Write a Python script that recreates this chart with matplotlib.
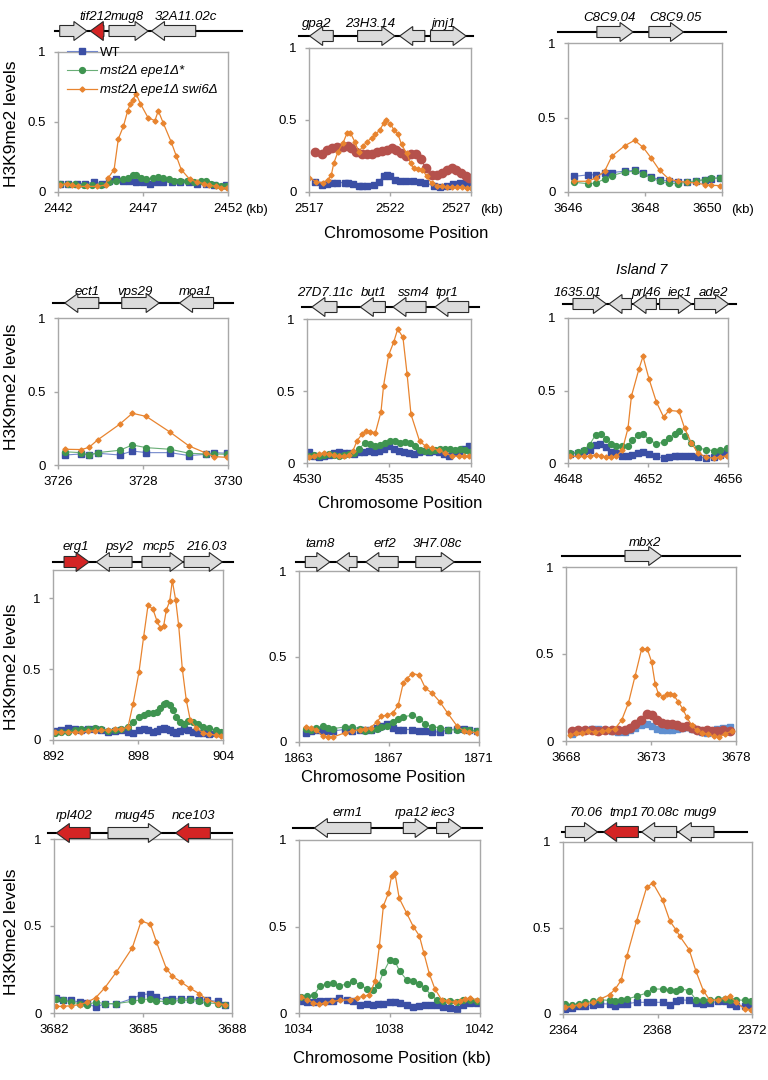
import numpy as np
import matplotlib.pyplot as plt
from matplotlib.patches import Polygon
from matplotlib.transforms import blended_transform_factory

plt.rcParams['font.family'] = ['Liberation Sans', 'DejaVu Sans']

W, H = 768, 1080

# ---------------- data (kb, H3K9me2 level) ----------------
# panel 1
p1_wt_x = [2442.1, 2442.6, 2443.1, 2443.6, 2444.1, 2444.6, 2445.0, 2445.4, 2445.8, 2446.2, 2446.6,
           2447.0, 2447.4, 2447.8, 2448.2, 2448.7, 2449.2, 2449.7, 2450.2, 2450.7, 2451.2, 2451.9]
p1_wt = [0.06, 0.06, 0.06, 0.06, 0.07, 0.06, 0.08, 0.09, 0.08, 0.08, 0.07,
         0.07, 0.06, 0.07, 0.07, 0.07, 0.07, 0.07, 0.06, 0.06, 0.05, 0.05]
p1_mut_x = [2442.1, 2442.6, 2443.0, 2443.5, 2444.0, 2444.5, 2445.0, 2445.4, 2445.8, 2446.1, 2446.4,
            2446.6, 2446.9, 2447.2, 2447.6, 2447.9, 2448.2, 2448.5, 2448.8, 2449.2, 2449.6, 2450.0,
            2450.4, 2450.7, 2451.0, 2451.3, 2451.6, 2451.9]
p1_mut = [0.06, 0.06, 0.06, 0.05, 0.05, 0.05, 0.07, 0.08, 0.09, 0.10, 0.12,
          0.12, 0.10, 0.09, 0.10, 0.11, 0.10, 0.09, 0.08, 0.08, 0.08, 0.07,
          0.08, 0.08, 0.06, 0.05, 0.04, 0.04]
p1_sw_x = [2442.1, 2442.5, 2442.8, 2443.2, 2443.7, 2444.3, 2444.8, 2444.95, 2445.3, 2445.55, 2445.85,
           2446.1, 2446.25, 2446.4, 2446.6, 2446.85, 2447.3, 2447.7, 2447.9, 2448.2, 2448.65, 2448.95,
           2449.25, 2449.75, 2450.2, 2450.6, 2450.9, 2451.3, 2451.6, 2451.95]
p1_sw = [0.05, 0.06, 0.05, 0.04, 0.04, 0.04, 0.05, 0.10, 0.16, 0.38, 0.47,
         0.58, 0.63, 0.66, 0.70, 0.63, 0.53, 0.51, 0.58, 0.49, 0.36, 0.26,
         0.16, 0.09, 0.07, 0.06, 0.05, 0.04, 0.03, 0.03]

# panel 2
p2_wt_x = [2517.35, 2517.8, 2518.1, 2518.4, 2518.7, 2519.2, 2519.4, 2519.7, 2520.1, 2520.3, 2520.6,
           2521.0, 2521.3, 2521.6, 2521.8, 2522.0, 2522.3, 2522.6, 2523.0, 2523.4, 2523.85, 2524.15,
           2524.7, 2525.1, 2525.5, 2525.9, 2526.3, 2526.7, 2526.9]
p2_wt = [0.07, 0.05, 0.055, 0.06, 0.065, 0.065, 0.065, 0.055, 0.04, 0.04, 0.04,
         0.05, 0.07, 0.11, 0.12, 0.11, 0.085, 0.075, 0.075, 0.075, 0.07, 0.065,
         0.04, 0.035, 0.045, 0.055, 0.06, 0.065, 0.07]
p2_alt_x = [2517.4, 2517.8, 2518.1, 2518.4, 2518.7, 2519.1, 2519.4, 2519.6, 2519.9, 2520.3, 2520.6,
            2520.9, 2521.2, 2521.5, 2521.8, 2522.1, 2522.4, 2522.7, 2523.0, 2523.3, 2523.6, 2523.9,
            2524.2, 2524.6, 2524.9, 2525.2, 2525.5, 2525.8, 2526.1, 2526.4, 2526.7, 2526.9]
p2_alt = [0.275, 0.265, 0.29, 0.305, 0.31, 0.315, 0.32, 0.305, 0.28, 0.265, 0.265,
          0.265, 0.275, 0.285, 0.295, 0.305, 0.295, 0.27, 0.25, 0.265, 0.265, 0.23,
          0.165, 0.115, 0.115, 0.13, 0.15, 0.165, 0.15, 0.13, 0.11, 0.095]
p2_sw_x = [2517.0, 2517.45, 2517.87, 2518.18, 2518.38, 2518.53, 2518.79, 2519.1, 2519.35, 2519.56,
           2519.82, 2520.07, 2520.34, 2520.59, 2520.86, 2521.1, 2521.37, 2521.62, 2521.78, 2522.03,
           2522.24, 2522.5, 2522.71, 2523.02, 2523.27, 2523.47, 2523.74, 2524.0, 2524.26, 2524.57,
           2524.88, 2525.19, 2525.49, 2525.8, 2526.11, 2526.42, 2526.73, 2526.98]
p2_sw = [0.10, 0.07, 0.065, 0.085, 0.12, 0.20, 0.28, 0.34, 0.41, 0.41,
         0.35, 0.28, 0.32, 0.35, 0.375, 0.40, 0.43, 0.48, 0.50, 0.475,
         0.43, 0.40, 0.33, 0.27, 0.20, 0.165, 0.16, 0.155, 0.11, 0.06,
         0.045, 0.04, 0.035, 0.035, 0.033, 0.033, 0.03, 0.03]

# panel 3
p3_x = [3646.16, 3646.52, 3646.72, 3646.95, 3647.14, 3647.47, 3647.73, 3647.95, 3648.16,
        3648.38, 3648.62, 3648.86, 3649.09, 3649.33, 3649.55, 3649.72, 3649.94]
p3_wt = [0.105, 0.115, 0.115, 0.125, 0.13, 0.14, 0.145, 0.128, 0.10,
         0.083, 0.072, 0.067, 0.067, 0.072, 0.083, 0.09, 0.094]
p3_mut = [0.065, 0.056, 0.06, 0.087, 0.11, 0.134, 0.139, 0.123, 0.094,
          0.072, 0.06, 0.056, 0.065, 0.076, 0.083, 0.094, 0.094]
p3_sw = [0.072, 0.072, 0.094, 0.139, 0.24, 0.31, 0.347, 0.30, 0.228,
         0.145, 0.087, 0.072, 0.065, 0.06, 0.05, 0.045, 0.043]

# panel 4
p4_x = [3726.16, 3726.55, 3726.73, 3726.93, 3727.45, 3727.75, 3728.08, 3728.64, 3729.08,
        3729.49, 3729.67, 3729.98]
p4_wt = [0.068, 0.075, 0.068, 0.08, 0.068, 0.095, 0.084, 0.084, 0.064, 0.073, 0.084, 0.08]
p4_mut = [0.09, 0.084, 0.068, 0.084, 0.10, 0.136, 0.118, 0.107, 0.08, 0.075, 0.075, 0.073]
p4_sw = [0.107, 0.105, 0.12, 0.17, 0.277, 0.352, 0.33, 0.223, 0.13, 0.08, 0.057, 0.052]

# panel 5
p5_wt_x = [4530.1, 4530.41, 4530.71, 4531.02, 4531.32, 4531.63, 4531.93, 4532.24, 4532.54, 4532.85,
           4533.15, 4533.46, 4533.76, 4534.07, 4534.37, 4534.67, 4534.98, 4535.28, 4535.59, 4535.89,
           4536.2, 4536.5, 4536.81, 4537.11, 4537.42, 4537.72, 4538.03, 4538.33, 4538.64, 4538.94,
           4539.25, 4539.55, 4539.86]
p5_wt = [0.074, 0.05, 0.044, 0.046, 0.055, 0.067, 0.074, 0.069, 0.069, 0.062,
         0.074, 0.078, 0.08, 0.074, 0.085, 0.097, 0.115, 0.10, 0.085, 0.074,
         0.067, 0.062, 0.074, 0.085, 0.078, 0.08, 0.078, 0.062, 0.05, 0.074,
         0.085, 0.10, 0.115]
p5_mut_x = [4530.1, 4530.41, 4530.71, 4531.02, 4531.32, 4531.63, 4531.93, 4532.24, 4532.54, 4532.85,
            4533.15, 4533.56, 4533.86, 4534.17, 4534.47, 4534.78, 4535.08, 4535.39, 4535.69, 4536.0,
            4536.3, 4536.61, 4536.91, 4537.22, 4537.52, 4537.83, 4538.13, 4538.43, 4538.74, 4539.04,
            4539.35, 4539.65, 4539.92]
p5_mut = [0.05, 0.055, 0.05, 0.055, 0.06, 0.055, 0.05, 0.055, 0.06, 0.07,
          0.10, 0.138, 0.13, 0.12, 0.126, 0.14, 0.154, 0.15, 0.142, 0.147,
          0.136, 0.115, 0.092, 0.085, 0.085, 0.092, 0.10, 0.10, 0.097, 0.092,
          0.10, 0.092, 0.078]
p5_sw_x = [4530.1, 4530.41, 4530.71, 4531.02, 4531.32, 4531.63, 4531.93, 4532.24, 4532.54, 4532.8,
           4533.05, 4533.35, 4533.62, 4533.86, 4534.17, 4534.51, 4534.67, 4534.98, 4535.28, 4535.53,
           4535.85, 4536.1, 4536.34, 4536.87, 4537.26, 4537.62, 4538.03, 4538.43, 4538.84, 4539.25,
           4539.55, 4539.86]
p5_sw = [0.044, 0.05, 0.062, 0.069, 0.062, 0.055, 0.05, 0.046, 0.057, 0.085,
         0.154, 0.20, 0.225, 0.218, 0.21, 0.354, 0.538, 0.75, 0.837, 0.93,
         0.873, 0.62, 0.338, 0.15, 0.115, 0.103, 0.09, 0.067, 0.05, 0.046,
         0.046, 0.046]

# panel 6
p6_wt_x = [4648.12, 4648.5, 4648.78, 4649.08, 4649.38, 4649.58, 4649.92, 4650.17, 4650.42, 4650.72,
           4651.0, 4651.22, 4651.5, 4651.75, 4652.05, 4652.42, 4652.78, 4653.05, 4653.33, 4653.55,
           4653.83, 4654.17, 4654.5, 4654.92, 4655.28, 4655.58, 4655.95]
p6_wt = [0.064, 0.069, 0.08, 0.092, 0.126, 0.13, 0.108, 0.076, 0.069, 0.046,
         0.046, 0.057, 0.069, 0.074, 0.064, 0.046, 0.034, 0.041, 0.046, 0.05,
         0.05, 0.046, 0.039, 0.034, 0.041, 0.057, 0.069]
p6_mut_x = [4648.12, 4648.5, 4648.78, 4649.08, 4649.38, 4649.67, 4649.92, 4650.17, 4650.42, 4650.72,
            4651.0, 4651.22, 4651.5, 4651.75, 4652.05, 4652.42, 4652.78, 4653.05, 4653.33, 4653.55,
            4653.83, 4654.17, 4654.5, 4654.92, 4655.28, 4655.58, 4655.95]
p6_mut = [0.069, 0.074, 0.092, 0.126, 0.195, 0.20, 0.165, 0.13, 0.12, 0.115,
          0.12, 0.16, 0.19, 0.20, 0.16, 0.133, 0.143, 0.172, 0.20, 0.218,
          0.184, 0.138, 0.103, 0.092, 0.085, 0.092, 0.103]
p6_sw_x = [4648.12, 4648.5, 4648.78, 4649.08, 4649.38, 4649.67, 4649.92, 4650.17, 4650.42, 4650.72,
           4651.0, 4651.17, 4651.55, 4651.75, 4652.05, 4652.42, 4652.78, 4653.05, 4653.55, 4653.83,
           4654.17, 4654.5, 4654.92, 4655.28, 4655.58, 4655.95]
p6_sw = [0.046, 0.046, 0.046, 0.046, 0.057, 0.05, 0.041, 0.041, 0.046, 0.092,
         0.24, 0.46, 0.65, 0.735, 0.58, 0.42, 0.317, 0.363, 0.356, 0.24,
         0.138, 0.069, 0.039, 0.034, 0.041, 0.05]

# panel 7
p7_x = [892.12, 892.59, 893.06, 893.53, 894.0, 894.47, 894.94, 895.41, 895.88, 896.35, 896.82,
        897.29, 897.65, 898.07, 898.4, 898.71, 899.06, 899.34, 899.58, 899.81, 900.0, 900.24,
        900.47, 900.71, 900.94, 901.22, 901.53, 901.88, 902.24, 902.59, 903.01, 903.48, 903.88]
p7_wt = [0.066, 0.07, 0.082, 0.075, 0.07, 0.075, 0.075, 0.07, 0.059, 0.066, 0.07,
         0.054, 0.052, 0.07, 0.078, 0.07, 0.054, 0.066, 0.075, 0.082, 0.078, 0.07,
         0.059, 0.052, 0.066, 0.075, 0.07, 0.059, 0.047, 0.047, 0.042, 0.047, 0.047]
p7_mut = [0.047, 0.054, 0.059, 0.07, 0.075, 0.078, 0.082, 0.078, 0.064, 0.07, 0.078,
          0.094, 0.13, 0.165, 0.176, 0.188, 0.193, 0.20, 0.224, 0.254, 0.26, 0.245,
          0.212, 0.165, 0.13, 0.113, 0.136, 0.13, 0.113, 0.094, 0.082, 0.07, 0.059]
p7_sw_x = [892.12, 892.59, 893.06, 893.53, 894.0, 894.47, 894.94, 895.41, 895.88, 896.35, 896.82,
           897.29, 897.65, 898.07, 898.4, 898.71, 899.06, 899.34, 899.58, 899.81, 900.0, 900.24,
           900.42, 900.66, 900.87, 901.13, 901.41, 901.69, 902.12, 902.59, 903.01, 903.48, 903.88]
p7_sw = [0.054, 0.06, 0.054, 0.054, 0.054, 0.064, 0.064, 0.07, 0.07, 0.075, 0.078,
         0.09, 0.254, 0.48, 0.73, 0.953, 0.922, 0.84, 0.79, 0.805, 0.918, 0.98,
         1.125, 0.988, 0.81, 0.5, 0.28, 0.14, 0.082, 0.052, 0.042, 0.035, 0.03]

# panel 8
p8_x = [1863.33, 1863.55, 1863.77, 1864.07, 1864.29, 1864.51, 1865.03, 1865.37, 1865.7, 1865.92,
        1866.18, 1866.47, 1866.66, 1866.89, 1867.18, 1867.41, 1867.63, 1868.04, 1868.34, 1868.62,
        1868.93, 1869.26, 1869.6, 1870.03, 1870.33, 1870.57, 1870.89]
p8_wt = [0.055, 0.063, 0.069, 0.063, 0.065, 0.065, 0.073, 0.065, 0.073, 0.069,
         0.069, 0.084, 0.092, 0.104, 0.084, 0.069, 0.073, 0.073, 0.065, 0.065,
         0.059, 0.059, 0.069, 0.078, 0.078, 0.069, 0.065]
p8_mut = [0.078, 0.073, 0.084, 0.092, 0.084, 0.078, 0.088, 0.088, 0.078, 0.065,
          0.069, 0.078, 0.088, 0.092, 0.118, 0.133, 0.147, 0.157, 0.137, 0.104,
          0.088, 0.084, 0.073, 0.069, 0.069, 0.069, 0.065]
p8_sw_x = [1863.33, 1863.55, 1863.77, 1864.07, 1864.29, 1864.51, 1865.03, 1865.37, 1865.7, 1865.92,
           1866.18, 1866.47, 1866.66, 1866.89, 1867.18, 1867.41, 1867.63, 1867.78, 1868.04, 1868.34,
           1868.62, 1868.93, 1869.26, 1869.6, 1870.03, 1870.33, 1870.57, 1870.89]
p8_sw = [0.088, 0.084, 0.069, 0.033, 0.029, 0.029, 0.053, 0.065, 0.073, 0.078,
         0.084, 0.118, 0.15, 0.157, 0.17, 0.216, 0.343, 0.37, 0.40, 0.392,
         0.314, 0.284, 0.235, 0.17, 0.092, 0.065, 0.059, 0.055]

# panel 9
p9_x = [3668.33, 3668.73, 3669.12, 3669.51, 3669.9, 3670.29, 3670.69, 3671.08, 3671.47, 3671.76,
        3672.06, 3672.39, 3672.75, 3673.04, 3673.33, 3673.63, 3673.92, 3674.22, 3674.51, 3674.8,
        3675.1, 3675.39, 3675.69, 3675.98, 3676.27, 3676.57, 3676.86, 3677.25, 3677.65]
p9_wt = [0.042, 0.057, 0.065, 0.071, 0.067, 0.061, 0.057, 0.052, 0.052, 0.065,
         0.077, 0.09, 0.096, 0.084, 0.071, 0.065, 0.061, 0.065, 0.071, 0.077,
         0.08, 0.071, 0.065, 0.052, 0.048, 0.052, 0.071, 0.077, 0.08]
p9_alt = [0.057, 0.065, 0.065, 0.061, 0.057, 0.061, 0.065, 0.061, 0.065, 0.077,
          0.10, 0.119, 0.157, 0.151, 0.123, 0.103, 0.10, 0.10, 0.09, 0.08,
          0.084, 0.077, 0.061, 0.057, 0.061, 0.057, 0.057, 0.061, 0.057]
p9_sw_x = [3668.24, 3668.59, 3668.92, 3669.31, 3669.71, 3670.1, 3670.49, 3670.88, 3671.27, 3671.67,
           3672.06, 3672.45, 3672.78, 3673.04, 3673.24, 3673.43, 3673.69, 3673.92, 3674.12, 3674.35,
           3674.61, 3674.86, 3675.1, 3675.39, 3675.69, 3675.98, 3676.37, 3676.71, 3677.02, 3677.35,
           3677.75]
p9_sw = [0.033, 0.048, 0.046, 0.056, 0.052, 0.058, 0.061, 0.071, 0.119, 0.218,
         0.372, 0.529, 0.529, 0.454, 0.33, 0.272, 0.253, 0.272, 0.272, 0.262,
         0.224, 0.186, 0.138, 0.09, 0.061, 0.048, 0.038, 0.027, 0.023, 0.042,
         0.056]

# panel 10
p10_x = [3682.08, 3682.3, 3682.58, 3682.87, 3683.11, 3683.4, 3683.71, 3684.1, 3684.64, 3684.94,
         3685.25, 3685.45, 3685.79, 3685.99, 3686.29, 3686.57, 3686.89, 3687.16, 3687.53, 3687.75]
p10_wt = [0.087, 0.073, 0.073, 0.062, 0.058, 0.033, 0.054, 0.052, 0.083, 0.106,
          0.11, 0.09, 0.073, 0.081, 0.081, 0.081, 0.077, 0.073, 0.067, 0.048]
p10_mut = [0.081, 0.073, 0.062, 0.054, 0.048, 0.062, 0.054, 0.054, 0.067, 0.077,
           0.081, 0.067, 0.067, 0.067, 0.073, 0.073, 0.067, 0.058, 0.054, 0.048]
p10_sw = [0.038, 0.038, 0.042, 0.048, 0.062, 0.087, 0.144, 0.235, 0.375, 0.529,
          0.51, 0.41, 0.254, 0.212, 0.177, 0.144, 0.112, 0.077, 0.054, 0.048]

# panel 11
p11_x = [1034.07, 1034.34, 1034.66, 1034.93, 1035.22, 1035.49, 1035.77, 1036.14, 1036.4, 1036.7,
         1037.02, 1037.28, 1037.51, 1037.73, 1038.02, 1038.24, 1038.46, 1038.76, 1039.05, 1039.32,
         1039.57, 1039.82, 1040.08, 1040.38, 1040.67, 1040.97, 1041.26, 1041.56, 1041.85]
p11_wt = [0.071, 0.063, 0.062, 0.067, 0.071, 0.067, 0.087, 0.077, 0.071, 0.048,
          0.052, 0.048, 0.052, 0.054, 0.062, 0.062, 0.058, 0.044, 0.035, 0.042,
          0.044, 0.048, 0.044, 0.035, 0.029, 0.025, 0.044, 0.058, 0.058]
p11_mut = [0.092, 0.096, 0.106, 0.154, 0.169, 0.173, 0.158, 0.167, 0.183, 0.163,
           0.138, 0.135, 0.163, 0.235, 0.308, 0.298, 0.24, 0.192, 0.183, 0.169,
           0.144, 0.106, 0.077, 0.067, 0.067, 0.062, 0.073, 0.073, 0.067]
p11_sw_x = [1034.07, 1034.34, 1034.63, 1034.9, 1035.15, 1035.44, 1035.81, 1036.25, 1036.55, 1036.84,
            1037.11, 1037.36, 1037.55, 1037.73, 1037.95, 1038.09, 1038.24, 1038.43, 1038.76, 1039.05,
            1039.32, 1039.52, 1039.76, 1040.01, 1040.3, 1040.6, 1040.89, 1041.11, 1041.33, 1041.56,
            1041.85]
p11_sw = [0.092, 0.077, 0.058, 0.052, 0.058, 0.067, 0.073, 0.077, 0.087, 0.096,
          0.106, 0.183, 0.385, 0.619, 0.692, 0.79, 0.808, 0.663, 0.577, 0.50,
          0.446, 0.346, 0.227, 0.138, 0.077, 0.067, 0.062, 0.071, 0.081, 0.087,
          0.077]

# panel 12
p12_x = [2364.1, 2364.38, 2364.66, 2364.94, 2365.29, 2365.58, 2365.97, 2366.21, 2366.46, 2366.7,
         2367.12, 2367.54, 2367.8, 2368.22, 2368.53, 2368.78, 2368.95, 2369.34, 2369.63, 2369.94,
         2370.22, 2370.57, 2370.85, 2371.06, 2371.34, 2371.69, 2371.97]
p12_wt = [0.029, 0.035, 0.045, 0.048, 0.054, 0.06, 0.058, 0.045, 0.06, 0.06,
          0.068, 0.068, 0.068, 0.068, 0.054, 0.074, 0.083, 0.079, 0.064, 0.06,
          0.064, 0.074, 0.074, 0.06, 0.048, 0.048, 0.05]
p12_mut = [0.058, 0.054, 0.058, 0.068, 0.074, 0.083, 0.079, 0.074, 0.083, 0.087,
           0.103, 0.122, 0.145, 0.145, 0.138, 0.136, 0.147, 0.136, 0.083, 0.079,
           0.079, 0.089, 0.087, 0.083, 0.083, 0.079, 0.078]
p12_sw = [0.039, 0.045, 0.055, 0.06, 0.068, 0.087, 0.112, 0.145, 0.196, 0.335,
          0.543, 0.736, 0.762, 0.661, 0.539, 0.49, 0.451, 0.374, 0.248, 0.136,
          0.079, 0.083, 0.093, 0.103, 0.068, 0.029, 0.025]

# genes: (start, end, strand, colour, name, label position)
p1_genes = [(2442.1, 2443.7, 1, 'g', '', 0), (2443.9, 2444.7, -1, 'r', 'tif212', 2444.2),
            (2445.0, 2447.3, 1, 'g', 'mug8', 2446.1), (2447.5, 2450.1, -1, 'g', '32A11.02c', 2449.5)]
p2_genes = [(2517.04, 2518.5, -1, 'g', 'gpa2', 2517.5), (2520.0, 2522.3, 1, 'g', '23H3.14', 2520.8),
            (2522.6, 2524.15, -1, 'g', '', 0), (2524.5, 2526.7, 1, 'g', 'jmj1', 2525.3)]
p3_genes = [(3646.75, 3647.69, 1, 'g', 'C8C9.04', 3647.08), (3648.1, 3649.0, 1, 'g', 'C8C9.05', 3648.8)]
p4_genes = [(3726.16, 3726.96, -1, 'g', 'ect1', 3726.68), (3727.5, 3728.38, 1, 'g', 'vps29', 3727.82),
            (3728.86, 3729.66, -1, 'g', 'moa1', 3729.24)]
p5_genes = [(4530.3, 4531.83, -1, 'g', '27D7.11c', 4531.08), (4533.25, 4534.78, -1, 'g', 'but1', 4534.07),
            (4535.24, 4537.26, -1, 'g', 'ssm4', 4536.5), (4537.8, 4539.86, -1, 'g', 'tpr1', 4538.5)]
p6_genes = [(4648.25, 4649.92, 1, 'g', '1635.01', 4648.5), (4650.05, 4651.17, -1, 'g', '', 0),
            (4651.25, 4652.42, -1, 'g', 'prl46', 4651.9), (4652.58, 4654.17, 1, 'g', 'iec1', 4653.6),
            (4654.33, 4656.03, 1, 'g', 'ade2', 4655.28)]
p7_genes = [(892.78, 894.55, 1, 'r', 'erg1', 893.6), (895.06, 897.58, -1, 'g', 'psy2', 896.66),
            (898.28, 901.18, 1, 'g', 'mcp5', 899.5), (901.25, 903.95, 1, 'g', '216.03', 902.8)]
p8_genes = [(1863.28, 1864.37, 1, 'g', 'tam8', 1863.92), (1864.66, 1865.58, -1, 'g', '', 0),
            (1865.97, 1867.41, -1, 'g', 'erf2', 1866.83), (1868.19, 1869.9, 1, 'g', '3H7.08c', 1869.13)]
p9_genes = [(3671.47, 3673.63, 1, 'g', 'mbx2', 3672.65)]
p10_genes = [(3682.08, 3683.22, -1, 'r', 'rpl402', 3682.69), (3683.82, 3685.62, 1, 'g', 'mug45', 3684.72),
             (3686.1, 3687.27, -1, 'r', 'nce103', 3686.7)]
p11_genes = [(1034.68, 1037.18, -1, 'g', 'erm1', 1036.14), (1038.61, 1039.71, 1, 'g', 'rpa12', 1039.0),
             (1040.08, 1041.19, 1, 'g', 'iec3', 1040.35)]
p12_genes = [(2364.1, 2365.46, 1, 'g', '70.06', 2364.98), (2365.72, 2367.19, -1, 'r', 'tmp1', 2366.6),
             (2367.33, 2368.81, -1, 'g', '70.08c', 2368.1), (2368.88, 2370.39, -1, 'g', 'mug9', 2369.8)]

p1_span = (2441.8, 2452.8)
p2_span = (2516.4, 2527.1)
p3_span = (3645.74, 3650.1)
p4_span = (3725.88, 3730.12)
p5_span = (4529.7, 4540.47)
p6_span = (4647.75, 4656.4)
p7_span = (892.0, 904.7)
p8_span = (1862.85, 1871.04)
p9_span = (3667.75, 3678.24)
p10_span = (3681.8, 3688.0)
p11_span = (1033.75, 1042.11)
p12_span = (2363.96, 2371.79)

p_ticks = [[2442, 2447, 2452], [2517, 2522, 2527], [3646, 3648, 3650],
           [3726, 3728, 3730], [4530, 4535, 4540], [4648, 4652, 4656],
           [892, 898, 904], [1863, 1867, 1871], [3668, 3673, 3678],
           [3682, 3685, 3688], [1034, 1038, 1042], [2364, 2368, 2372]]

# ---------------- styles ----------------
BLUE = '#3b4fa5'
GREEN = '#3f9450'
ORANGE = '#e8842f'
BROWN = '#b5514c'
LBLUE = '#5f8fd0'
styles = {
    'wt': dict(marker='s', ms=3.8, color='#7388cc', mfc=BLUE, mec=BLUE, lw=0.8),
    'mut': dict(marker='o', ms=4.2, color='#6aae77', mfc=GREEN, mec=GREEN, lw=0.8),
    'sw': dict(marker='D', ms=2.6, color=ORANGE, mfc=ORANGE, mec=ORANGE, lw=0.9),
    'alt': dict(marker='o', ms=6, color=BROWN, mfc=BROWN, mec=BROWN, lw=0.8),
    'lwt': dict(marker='s', ms=5, color=LBLUE, mfc=LBLUE, mec=LBLUE, lw=0.8),
}

panel_series = [
    [(p1_wt_x, p1_wt, 'wt'), (p1_mut_x, p1_mut, 'mut'), (p1_sw_x, p1_sw, 'sw')],
    [(p2_wt_x, p2_wt, 'wt'), (p2_alt_x, p2_alt, 'alt'), (p2_sw_x, p2_sw, 'sw')],
    [(p3_x, p3_wt, 'wt'), (p3_x, p3_mut, 'mut'), (p3_x, p3_sw, 'sw')],
    [(p4_x, p4_wt, 'wt'), (p4_x, p4_mut, 'mut'), (p4_x, p4_sw, 'sw')],
    [(p5_wt_x, p5_wt, 'wt'), (p5_mut_x, p5_mut, 'mut'), (p5_sw_x, p5_sw, 'sw')],
    [(p6_wt_x, p6_wt, 'wt'), (p6_mut_x, p6_mut, 'mut'), (p6_sw_x, p6_sw, 'sw')],
    [(p7_x, p7_wt, 'wt'), (p7_x, p7_mut, 'mut'), (p7_sw_x, p7_sw, 'sw')],
    [(p8_x, p8_wt, 'wt'), (p8_x, p8_mut, 'mut'), (p8_sw_x, p8_sw, 'sw')],
    [(p9_x, p9_wt, 'lwt'), (p9_x, p9_alt, 'alt'), (p9_sw_x, p9_sw, 'sw')],
    [(p10_x, p10_wt, 'wt'), (p10_x, p10_mut, 'mut'), (p10_x, p10_sw, 'sw')],
    [(p11_x, p11_wt, 'wt'), (p11_x, p11_mut, 'mut'), (p11_sw_x, p11_sw, 'sw')],
    [(p12_x, p12_wt, 'wt'), (p12_x, p12_mut, 'mut'), (p12_x, p12_sw, 'sw')],
]
panel_genes = [p1_genes, p2_genes, p3_genes, p4_genes, p5_genes, p6_genes,
               p7_genes, p8_genes, p9_genes, p10_genes, p11_genes, p12_genes]
panel_spans = [p1_span, p2_span, p3_span, p4_span, p5_span, p6_span,
               p7_span, p8_span, p9_span, p10_span, p11_span, p12_span]

# layout in pixels: left, right, top, bottom, track y, label offset
layout = [
    (58, 228, 52, 192, 31, -14), (309, 471, 48, 192, 36, -12), (568, 722, 43, 192, 32, -14),
    (58, 228, 318, 465, 303, -11), (307, 471, 319, 463, 307, -14), (568, 728, 318, 463, 304, -11),
    (53, 223, 570, 740, 562, -15), (299, 479, 571, 742, 562, -18), (566, 736, 567, 741, 556, -13),
    (54, 232, 839, 1013, 833, -17), (299, 480, 840, 1013, 828, -15), (563, 752, 842, 1014, 832, -19),
]

fig = plt.figure(figsize=(W / 100, H / 100), dpi=100)
GRAY = '#a8a8a8'
axes = []

for i, (l, r, t, b, ty, ldy) in enumerate(layout):
    ax = fig.add_axes([l / W, 1 - b / H, (r - l) / W, (b - t) / H])
    axes.append(ax)
    for x, y, key in panel_series[i]:
        ax.plot(x, y, **styles[key])
    ticks = p_ticks[i]
    ax.set_xlim(ticks[0], ticks[-1])
    ax.set_xticks(ticks, [str(v) for v in ticks])
    top = 1.2 if i == 6 else 1.0
    ax.set_ylim(0, top)
    ax.set_yticks([0, 0.5, 1], ['0', '0.5', '1'])
    for sp in ax.spines.values():
        sp.set_color(GRAY)
        sp.set_linewidth(1.0)
    ax.tick_params(color=GRAY, labelcolor='black', length=3, width=1, labelsize=9.5)
    ax.tick_params(axis='x', pad=5)
    ax.tick_params(axis='y', pad=6)

    # gene track above the axes
    trans = blended_transform_factory(ax.transData, fig.transFigure)
    kb_px = (ticks[-1] - ticks[0]) / (r - l)
    yc = 1 - ty / H
    span = panel_spans[i]
    ax.plot(span, [yc, yc], color='black', lw=1.5, transform=trans, clip_on=False, zorder=3)
    bh, hh = 5.5 / H, 9.5 / H
    for start, end, strand, col, name, lx in panel_genes[i]:
        head = min(13 * kb_px, end - start)
        if strand > 0:
            k = end - head
            pts = [(start, yc - bh), (k, yc - bh), (k, yc - hh), (end, yc),
                   (k, yc + hh), (k, yc + bh), (start, yc + bh)]
        else:
            k = start + head
            pts = [(end, yc - bh), (k, yc - bh), (k, yc - hh), (start, yc),
                   (k, yc + hh), (k, yc + bh), (end, yc + bh)]
        fc = '#d42424' if col == 'r' else '#dcdcdc'
        ax.add_patch(Polygon(pts, closed=True, transform=trans, clip_on=False,
                             facecolor=fc, edgecolor='#2a2a2a', lw=0.8, zorder=4))
        if name:
            ax.text(lx, 1 - (ty + ldy) / H, name, transform=trans, ha='center', va='center',
                    style='italic', fontsize=9.5)

# "(kb)" on the first row
axes[0].annotate('(kb)', xy=(1, 0), xycoords='axes fraction', xytext=(17, -18),
                 textcoords='offset pixels', va='center', ha='left', fontsize=9.5)
for ax in axes[1:3]:
    ax.get_xticklabels()[-1].set_ha('right')
    ax.annotate('(kb)', xy=(1, 0), xycoords='axes fraction', xytext=(9, -18),
                textcoords='offset pixels', va='center', ha='left', fontsize=9.5)

# legend
leg = axes[0].legend(['WT', 'mst2\u0394 epe1\u0394*', 'mst2\u0394 epe1\u0394 swi6\u0394'],
                     loc='upper left', bbox_to_anchor=(0.05, 1.04), frameon=False, fontsize=9.5,
                     handlelength=2.3, handletextpad=0.25, labelspacing=0.5, borderpad=0,
                     borderaxespad=0)
for txt in leg.get_texts()[1:]:
    txt.set_fontstyle('italic')

fig.text(642 / W, 1 - 270 / H, 'Island 7', ha='center', va='center', style='italic', fontsize=10.5)

for yc in [124, 387, 667, 932]:
    fig.text(12 / W, 1 - yc / H, 'H3K9me2 levels', rotation=90, ha='center', va='center', fontsize=12.5)
fig.text(406 / W, 1 - 234 / H, 'Chromosome Position', ha='center', va='center', fontsize=12)
fig.text(400 / W, 1 - 504 / H, 'Chromosome Position', ha='center', va='center', fontsize=12)
fig.text(383 / W, 1 - 778 / H, 'Chromosome Position', ha='center', va='center', fontsize=12)
fig.text(392 / W, 1 - 1058 / H, 'Chromosome Position (kb)', ha='center', va='center', fontsize=12)

fig.savefig('out.png', dpi=100)
